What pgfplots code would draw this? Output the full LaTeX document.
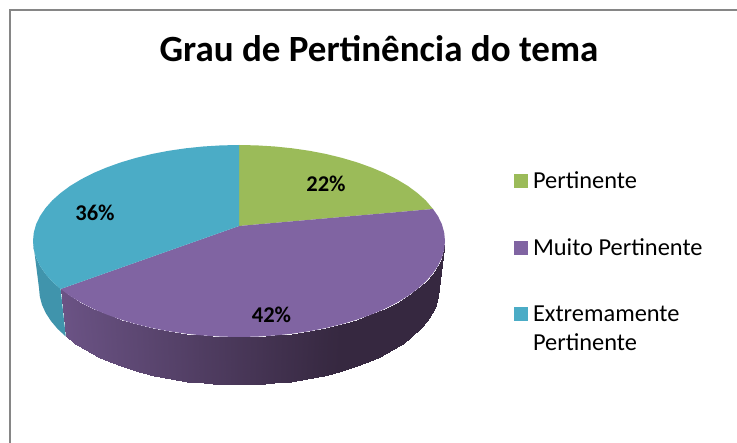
\documentclass[border=0pt]{standalone}
\usepackage{fontspec}
\setmainfont{Carlito}
\usepackage{pgfplots}
\pgfplotsset{compat=1.18}

\definecolor{verde}{RGB}{155,187,89}
\definecolor{roxo}{RGB}{128,100,162}
\definecolor{azul}{RGB}{75,172,198}
\definecolor{azulside}{RGB}{64,148,172}
\definecolor{moldura}{RGB}{134,134,134}

\pgfplotsset{
    sq/.style={legend image code/.code={\fill[##1] (0pt,-7pt) rectangle (14pt,7pt);}},
    sqhigh/.style={legend image code/.code={\fill[##1] (0pt,7.5pt) rectangle (14pt,21.5pt);}},
}

\begin{document}
\begin{tikzpicture}
\begin{axis}[
    scale only axis,
    width=737pt, height=443pt,
    xmin=0, xmax=737, ymin=0, ymax=443,
    y dir=reverse,
    hide axis,
    colormap={lado}{rgb255=(107,83,133) rgb255=(54,40,64)},
    point meta min=0, point meta max=1,
    legend style={at={(axis cs:514,169.5)}, anchor=north west, draw=none, fill=none,
        inner sep=0pt, outer sep=0pt, row sep=44.8pt, column sep=3pt,
        font=\fontsize{24.4}{29}\selectfont,
        cells={anchor=west, align=left}},
    legend cell align=left,
]
% page background and frame
\addplot[fill=white, draw=none, forget plot] coordinates {(0,0)(737,0)(737,443)(0,443)} -- cycle;
\addplot[moldura, line width=2.4pt, forget plot] coordinates {(10,443)(10,10)(737,10)};

% side walls
\addplot[fill=azulside, draw=none, forget plot] coordinates {
    (33,241)(33.8,249.4)(36.1,257.7)(40,265.8)(45.4,273.8)(52.3,281.6)(60.6,289)
    (65.8,336.5)(57.7,329)(51.1,321.2)(45.8,313.1)(42,304.8)(39.8,296.5)(39,288)
} -- cycle;

\addplot[surf, shader=interp, mesh/rows=2, forget plot, point meta=explicit]
    table[x=x, y=y, meta=c] {
x y c
60.6 289 0
70.2 296.1 0.04
81.2 302.7 0.08
93.3 308.9 0.12
106.6 314.5 0.17
120.8 319.6 0.22
136 324.1 0.27
151.9 328 0.33
168.5 331.2 0.39
185.7 333.7 0.45
203.2 335.5 0.52
221 336.6 0.58
239 337 0.65
257 336.6 0.71
274.8 335.5 0.78
292.3 333.7 0.84
309.5 331.2 0.9
326.1 328 0.96
342 324.1 1
357.2 319.6 1
371.4 314.5 1
384.7 308.9 1
396.8 302.7 1
407.8 296.1 1
417.4 289 1
425.7 281.6 1
432.6 273.8 1
438 265.8 1
441.9 257.7 1
444.2 249.4 1
445 241 1
65.8 336.5 0
75.2 343.6 0.04
85.8 350.4 0.08
97.6 356.6 0.12
110.4 362.3 0.17
124.3 367.5 0.22
139 372 0.27
154.5 375.9 0.33
170.6 379.2 0.39
187.2 381.7 0.45
204.3 383.5 0.52
221.6 384.6 0.58
239 385 0.65
256.4 384.6 0.71
273.7 383.5 0.78
290.8 381.7 0.84
307.4 379.2 0.9
323.5 375.9 0.96
339 372 1
353.7 367.5 1
367.6 362.3 1
380.4 356.6 1
392.2 350.4 1
402.8 343.6 1
412.2 336.5 1
420.3 329 1
426.9 321.2 1
432.2 313.1 1
436 304.8 1
438.2 296.5 1
439 288 1
};

% top face: Pertinente 22%
\addplot[sq, fill=verde, draw=none] coordinates {
    (239,226)(239,145)(257,145.4)(274.8,146.5)(292.3,148.3)(309.5,150.8)(326.1,154)
    (342,157.9)(357.2,162.4)(371.4,167.5)(384.7,173.1)(396.8,179.3)(407.8,185.9)
    (417.4,193)(425.7,200.4)(433,209)
} -- cycle;
\addlegendentry{Pertinente}

% top face: Muito Pertinente 42%
\addplot[sq, fill=roxo, draw=none] coordinates {
    (239,226)(433,209)(438,216.2)(441.9,224.3)(444.2,232.6)(445,241)
    (444.2,249.4)(441.9,257.7)(438,265.8)(432.6,273.8)(425.7,281.6)(417.4,289)
    (407.8,296.1)(396.8,302.7)(384.7,308.9)(371.4,314.5)(357.2,319.6)(342,324.1)
    (326.1,328)(309.5,331.2)(292.3,333.7)(274.8,335.5)(257,336.6)(239,337)
    (221,336.6)(203.2,335.5)(185.7,333.7)(168.5,331.2)(151.9,328)(136,324.1)
    (120.8,319.6)(106.6,314.5)(93.3,308.9)(81.2,302.7)(70.2,296.1)(60.6,289)
} -- cycle;
\addlegendentry{Muito Pertinente}

% top face: Extremamente Pertinente 36%
\addplot[sqhigh, fill=azul, draw=none] coordinates {
    (239,226)(60.6,289)(52.3,281.6)(45.4,273.8)(40,265.8)(36.1,257.7)(33.8,249.4)(33,241)
    (33.8,232.6)(36.1,224.3)(40,216.2)(45.4,208.2)(52.3,200.4)(60.6,193)(70.2,185.9)
    (81.2,179.3)(93.3,173.1)(106.6,167.5)(120.8,162.4)(136,157.9)(151.9,154)
    (168.5,150.8)(185.7,148.3)(203.2,146.5)(221,145.4)(239,145)
} -- cycle;
\addlegendentry{Extremamente\\Pertinente}

\node[anchor=base, font=\fontsize{37}{44}\selectfont\bfseries] at (axis cs:379,62) {Grau de Pertinência do tema};
\node[anchor=base, font=\fontsize{22.5}{26}\selectfont\bfseries] at (axis cs:326,192) {22\%};
\node[anchor=base, font=\fontsize{22.5}{26}\selectfont\bfseries] at (axis cs:271.5,323) {42\%};
\node[anchor=base, font=\fontsize{22.5}{26}\selectfont\bfseries] at (axis cs:95,221) {36\%};
\end{axis}
\end{tikzpicture}
\end{document}
